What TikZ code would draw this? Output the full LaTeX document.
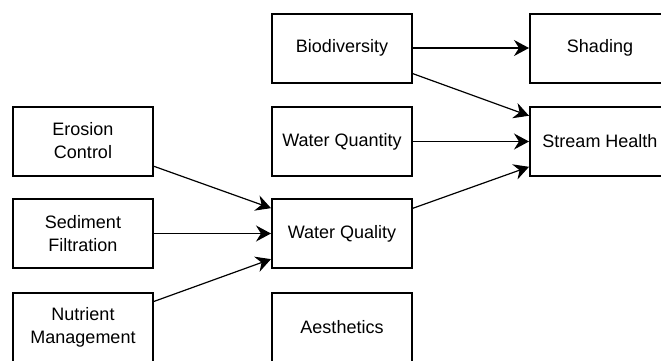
\documentclass[tikz,border=0pt]{standalone}
\usepackage{fontspec}
\setmainfont{Liberation Sans}
\usetikzlibrary{arrows.meta}
\begin{document}
\begin{tikzpicture}[x=1pt,y=-1pt,
  box/.style={draw=black,line width=2pt,minimum width=140pt,minimum height=69pt,
    align=center,inner sep=0pt,font=\fontsize{18}{23}\selectfont},
  conn/.style={line width=1.2pt,-{Stealth[length=15pt,width=16pt,inset=5pt]}}]
\useasboundingbox (0,0) rectangle (661,360);
\begin{scope}
\clip (0,0) rectangle (661,360);
\node[box] (ero) at (83,141) {Erosion\\Control};
\node[box] (sed) at (83,233.5) {Sediment\\Filtration};
\node[box] (nut) at (83,327) {Nutrient\\Management};
\node[box] (bio) at (342,48) {Biodiversity};
\node[box] (wqn) at (342,141.5) {Water Quantity};
\node[box] (wql) at (342,233.5) {Water Quality};
\node[box] (aes) at (342,327) {Aesthetics};
\node[box] (sha) at (600,48) {Shading};
\node[box] (sth) at (600,141.5) {Stream Health};
\draw[conn] (ero) -- (wql);
\draw[conn] (sed) -- (wql);
\draw[conn] (nut) -- (wql);
\draw[conn] (bio) -- (sha);
\draw[conn] (bio) -- (sth);
\draw[conn] (wqn) -- (sth);
\draw[conn] (wql) -- (sth);
\end{scope}
\end{tikzpicture}
\end{document}
